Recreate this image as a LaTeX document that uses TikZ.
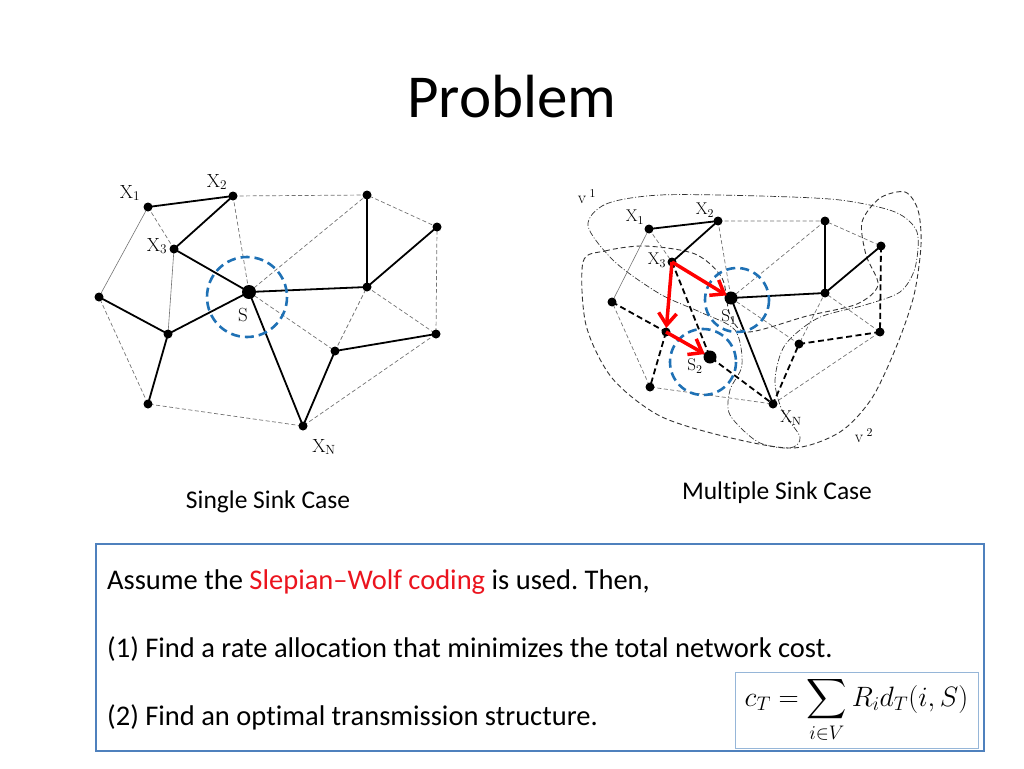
\RequirePackage{fix-cm}
\documentclass[tikz,border=0pt]{standalone}
\usepackage{amsmath, amssymb}
\usepackage[no-math]{fontspec}
\setmainfont{Carlito}[Ligatures=NoCommon]
\usetikzlibrary{arrows.meta}
\frenchspacing

\definecolor{azul}{RGB}{31,113,181}
\definecolor{marco}{RGB}{79,129,189}
\definecolor{marcof}{RGB}{150,182,216}
\definecolor{gris}{RGB}{115,115,115}
\definecolor{rojo}{RGB}{235,20,30}

\tikzset{
	arbol/.style={black, line width=1.8pt},
	arbolb/.style={black, line width=1.8pt, dash pattern=on 6pt off 3.5pt},
	malla/.style={gris, line width=0.7pt, dash pattern=on 4pt off 2.5pt},
	fina/.style={gris, line width=0.6pt},
	sumidero/.style={azul, line width=2.6pt, dash pattern=on 9pt off 5pt},
	flujo/.style={red, line width=3.5pt, -{Straight Barb[length=12pt,width=18pt]}},
	region1/.style={black!80, line width=0.7pt, dash pattern=on 6pt off 2pt on 1pt off 2pt},
	region2/.style={black!80, line width=0.9pt, dash pattern=on 5pt off 3pt},
	etiq/.style={font=\fontsize{19}{19}\selectfont, inner sep=0pt},
	etiqb/.style={font=\fontsize{17}{17}\selectfont, inner sep=0pt},
	texto/.style={font=\fontsize{28.5}{34}\selectfont, anchor=base west, inner sep=0pt},
	leyenda/.style={font=\fontsize{25.5}{30}\selectfont, anchor=base, inner sep=0pt}
}

\begin{document}
\begin{tikzpicture}[x=1pt, y=-1pt]
	\useasboundingbox (0,0) rectangle (1024,768);

	% Titulo
	\node[font=\fontsize{61}{70}\selectfont, anchor=base, inner sep=0pt] (titulo) at (512,117) {Problem};

	% Posiciones de los nodos (caso de un sumidero)
	\coordinate (ax1) at (148,207);    % X1
	\coordinate (ax2) at (233,196);    % X2
	\coordinate (ax3) at (174,249);    % X3
	\coordinate (as) at (249,292);     % sumidero S
	\coordinate (al) at (99,297);
	\coordinate (am) at (168,334);
	\coordinate (abl) at (148,404);
	\coordinate (axn) at (303,426);    % XN
	\coordinate (atr1) at (367,195);
	\coordinate (atr2) at (437,227);
	\coordinate (ar) at (367,287);
	\coordinate (arr) at (436,334);
	\coordinate (aq) at (335,351);

	% Aristas de la red
	\draw[malla] (ax2) -- (atr1) -- (atr2) -- (arr) -- (axn) -- (abl) -- (al);
	\draw[malla] (ax1) -- (ax3);
	\draw[malla] (ax2) -- (as) -- (atr1);
	\draw[malla] (as) -- (aq) -- (ar) -- (arr);
	\draw[fina] (ax1) -- (al);
	\draw[fina] (ax3) -- (am);

	% Arbol de transmision
	\draw[arbol] (ax1) -- (ax2) -- (ax3) -- (as) -- (ar) -- (atr1);
	\draw[arbol] (ar) -- (atr2);
	\draw[arbol] (al) -- (am) -- (as) -- (axn) -- (aq) -- (arr);
	\draw[arbol] (am) -- (abl);

	% Dibujar los nodos
	\foreach \p in {ax1,ax2,ax3,al,am,abl,axn,atr1,atr2,ar,arr,aq}
		\fill (\p) circle (4.5);
	\fill (as) circle (7);
	\draw[sumidero] (247,297) circle (40);

	\node[etiq] (lax1) at (130,193) {$\mathrm{X}_1$};
	\node[etiq] (lax2) at (217,182) {$\mathrm{X}_2$};
	\node[etiq] (lax3) at (157,246) {$\mathrm{X}_3$};
	\node[etiq] (las) at (243,315) {$\mathrm{S}$};
	\node[etiq] (laxn) at (324,447) {$\mathrm{X}_\mathrm{N}$};

	% Posiciones de los nodos (caso de varios sumideros)
	\coordinate (bx1) at (649,229);    % X1
	\coordinate (bx2) at (718,221);    % X2
	\coordinate (bx3) at (672,262);    % X3
	\coordinate (bs1) at (731,298);    % sumidero S1
	\coordinate (bs2) at (710,357);    % sumidero S2
	\coordinate (bl) at (612,302);
	\coordinate (bm) at (666,332);
	\coordinate (bbl) at (650,387);
	\coordinate (bxn) at (773,404);    % XN
	\coordinate (btr1) at (825,221);
	\coordinate (btr2) at (881,246);
	\coordinate (br) at (825,293);
	\coordinate (brr) at (880,332);
	\coordinate (bq) at (799,344);

	% Regiones V1 y V2
	\draw[region1] plot[smooth cycle] coordinates {(588,226) (606,204) (660,195) (760,196) (840,200) (895,212) (917,232) (915,268) (900,292) (865,305) (818,318) (785,345) (775,380) (782,410) (800,437) (790,448) (758,442) (730,415) (730,390) (742,365) (735,330) (700,312) (660,294) (615,262)};
	\draw[region2] plot[smooth cycle] coordinates {(583,262) (605,251) (645,246) (695,254) (722,278) (730,315) (748,332) (807,316) (857,304) (878,285) (866,255) (862,222) (880,198) (905,192) (918,210) (921,245) (914,295) (897,345) (872,398) (840,432) (793,448) (727,437) (660,416) (612,378) (586,325)};

	% Aristas de la red
	\draw[malla] (bx2) -- (btr1) -- (btr2);
	\draw[malla] (bx1) -- (bx3);
	\draw[malla] (bx2) -- (bs1) -- (btr1);
	\draw[malla] (bs1) -- (bq) -- (br) -- (brr) -- (bxn) -- (bbl) -- (bl);
	\draw[fina] (bx1) -- (bl);

	% Arboles de transmision
	\draw[arbol] (bx1) -- (bx2) -- (bx3);
	\draw[arbol] (btr1) -- (br) -- (bs1) -- (bxn);
	\draw[arbol] (br) -- (btr2);
	\draw[arbolb] (bl) -- (bm) -- (bs2) -- (bxn) -- (bq) -- (brr) -- (btr2);
	\draw[arbolb] (bm) -- (bbl);
	\draw[arbolb] (bx3) -- (bs2);

	% Dibujar los nodos
	\foreach \p in {bx1,bx2,bx3,bl,bm,bbl,bxn,btr1,btr2,br,brr,bq}
		\fill (\p) circle (4.5);
	\fill (bs1) circle (6.5);
	\fill (bs2) circle (6.5);
	\draw[sumidero] (737,300) circle (32);
	\draw[sumidero] (703,362) circle (33);

	% Flujos hacia los sumideros
	\draw[flujo, shorten >=5pt] (bx3) -- (bs1);
	\draw[flujo, shorten >=4pt] (bx3) -- (bm);
	\draw[flujo, shorten >=6pt] (bm) -- (bs2);

	\node[etiqb] (lv1) at (587,197) {$\mathrm{v}^{\;1}$};
	\node[etiqb] (lbx1) at (635,217) {$\mathrm{X}_1$};
	\node[etiqb] (lbx2) at (705,210) {$\mathrm{X}_2$};
	\node[etiqb] (lbx3) at (657,260) {$\mathrm{X}_3$};
	\node[etiqb] (lbs1) at (729,317) {$\mathrm{S}_1$};
	\node[etiqb] (lbs2) at (695,366) {$\mathrm{S}_2$};
	\node[etiqb] (lbxn) at (791,418) {$\mathrm{X}_\mathrm{N}$};
	\node[etiqb] (lv2) at (864,436) {$\mathrm{v}^{\;2}$};

	% Leyendas
	\node[leyenda] (caso1) at (268,508) {Single Sink Case};
	\node[leyenda] (caso2) at (777,499) {Multiple Sink Case};

	% Recuadro del enunciado
	\draw[marco, line width=2.5pt] (96,544) rectangle (984,751);
	\node[texto] (linea1) at (107,589) {Assume the \textcolor{rojo}{Slepian–Wolf coding} is used. Then,};
	\node[texto] (linea2) at (107,657) {(1) Find a rate allocation that minimizes the total network cost.};
	\node[texto] (linea3) at (107,725) {(2) Find an optimal transmission structure.};
	\node[draw=marcof, fill=white, line width=1pt, minimum width=243pt, minimum height=76pt, font=\fontsize{28}{33}\selectfont] (coste) at (856.5,710) {$\displaystyle c_T=\sum_{i\in V}R_i d_T(i,S)$};
\end{tikzpicture}
\end{document}
